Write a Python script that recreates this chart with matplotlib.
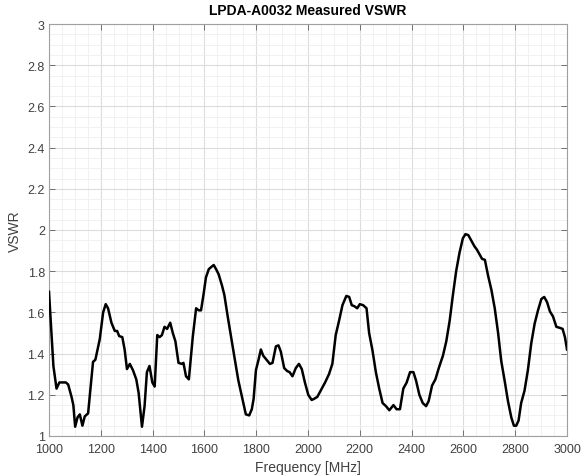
import matplotlib
matplotlib.use("Agg")
import matplotlib.pyplot as plt
from matplotlib.ticker import MultipleLocator

freq_mhz = [1000, 1017, 1029, 1040, 1051, 1065, 1074, 1087, 1094, 1101, 1110, 1119, 1129, 1138, 1151,
            1170, 1179, 1196, 1209, 1219, 1228, 1241, 1254, 1263, 1271, 1283, 1292, 1301, 1312, 1324,
            1337, 1346, 1359, 1369, 1378, 1388, 1399, 1408, 1418, 1427, 1436, 1446, 1456, 1468, 1478,
            1488, 1500, 1513, 1519, 1529, 1540, 1555, 1568, 1578, 1587, 1597, 1606, 1617, 1626, 1636,
            1645, 1655, 1668, 1677, 1690, 1703, 1715, 1731, 1747, 1760, 1773, 1783, 1790, 1799, 1809,
            1818, 1827, 1840, 1853, 1863, 1876, 1886, 1895, 1908, 1920, 1929, 1940, 1953, 1965, 1976,
            1988, 2001, 2014, 2023, 2036, 2049, 2066, 2081, 2094, 2107, 2120, 2133, 2148, 2159, 2169,
            2179, 2190, 2200, 2213, 2226, 2236, 2249, 2262, 2275, 2288, 2301, 2314, 2330, 2342, 2355,
            2368, 2381, 2394, 2407, 2417, 2430, 2443, 2456, 2466, 2479, 2492, 2505, 2521, 2534, 2547,
            2559, 2572, 2585, 2598, 2608, 2619, 2630, 2643, 2652, 2663, 2672, 2683, 2695, 2708, 2721,
            2734, 2746, 2759, 2772, 2785, 2795, 2804, 2813, 2823, 2836, 2849, 2862, 2875, 2888, 2901,
            2912, 2923, 2934, 2946, 2959, 2972, 2983, 2992, 3000]
vswr = [1.70, 1.34, 1.23, 1.26, 1.26, 1.26, 1.25, 1.19, 1.15, 1.045, 1.09, 1.105, 1.05, 1.095, 1.11,
        1.36, 1.37, 1.47, 1.60, 1.64, 1.62, 1.55, 1.51, 1.51, 1.485, 1.48, 1.42, 1.325, 1.35, 1.32,
        1.275, 1.21, 1.045, 1.145, 1.31, 1.34, 1.26, 1.24, 1.49, 1.48, 1.49, 1.53, 1.52, 1.55, 1.50,
        1.46, 1.355, 1.35, 1.355, 1.29, 1.275, 1.48, 1.62, 1.61, 1.61, 1.69, 1.77, 1.81, 1.82, 1.83,
        1.81, 1.785, 1.73, 1.685, 1.58, 1.48, 1.39, 1.27, 1.18, 1.105, 1.10, 1.13, 1.18, 1.32, 1.37,
        1.42, 1.39, 1.37, 1.35, 1.355, 1.435, 1.44, 1.41, 1.33, 1.315, 1.31, 1.29, 1.33, 1.35, 1.325,
        1.26, 1.20, 1.175, 1.18, 1.19, 1.22, 1.26, 1.30, 1.35, 1.49, 1.56, 1.635, 1.68, 1.675, 1.635,
        1.63, 1.62, 1.64, 1.635, 1.62, 1.50, 1.415, 1.31, 1.23, 1.16, 1.145, 1.125, 1.15, 1.13, 1.13,
        1.23, 1.26, 1.31, 1.31, 1.27, 1.20, 1.16, 1.145, 1.17, 1.245, 1.275, 1.33, 1.39, 1.46, 1.56,
        1.68, 1.80, 1.89, 1.96, 1.98, 1.975, 1.95, 1.92, 1.905, 1.88, 1.86, 1.855, 1.78, 1.71, 1.62,
        1.50, 1.365, 1.27, 1.17, 1.09, 1.05, 1.05, 1.075, 1.16, 1.22, 1.32, 1.45, 1.545, 1.61, 1.665,
        1.675, 1.65, 1.605, 1.58, 1.53, 1.525, 1.52, 1.48, 1.42]

x_ticks = [1000, 1200, 1400, 1600, 1800, 2000, 2200, 2400, 2600, 2800, 3000]
y_ticks = [1, 1.2, 1.4, 1.6, 1.8, 2, 2.2, 2.4, 2.6, 2.8, 3]
y_tick_labels = ["1", "1.2", "1.4", "1.6", "1.8", "2", "2.2", "2.4", "2.6", "2.8", "3"]

plt.rcParams['font.family'] = ['Liberation Sans', 'DejaVu Sans']

fig = plt.figure(figsize=(5.82, 4.77), dpi=100)
ax = fig.add_axes([49/582, 40/477, (567-49)/582, (437-25)/477])

ax.plot(freq_mhz, vswr, color='black', lw=1.8, zorder=3)

ax.set_xlim(1000, 3000)
ax.set_ylim(1, 3)
ax.set_xticks(x_ticks)
ax.set_yticks(y_ticks)
ax.set_yticklabels(y_tick_labels)
ax.xaxis.set_minor_locator(MultipleLocator(50))
ax.yaxis.set_minor_locator(MultipleLocator(0.05))

ax.grid(which='major', color='#dcdcdc', lw=0.8, zorder=0)
ax.grid(which='minor', color='#efefef', lw=0.6, zorder=0)
ax.set_axisbelow(True)

for s in ax.spines.values():
    s.set_color('#a0a0a0')
    s.set_linewidth(0.8)
ax.tick_params(which='major', direction='in', length=4, width=0.7, color='#707070',
               labelsize=9, labelcolor='#404040', top=True, right=True)
ax.tick_params(axis='x', which='major', pad=5)
ax.tick_params(axis='y', which='major', pad=3)
ax.tick_params(which='minor', length=0, top=True, right=True)

ax.set_xlabel('Frequency [MHz]', fontsize=10, color='#404040', labelpad=4)
ax.set_ylabel('VSWR', fontsize=10, color='#404040', labelpad=4)
ax.set_title('LPDA-A0032 Measured VSWR', fontsize=10, fontweight='bold', pad=7)

fig.savefig('out.png', dpi=100)
